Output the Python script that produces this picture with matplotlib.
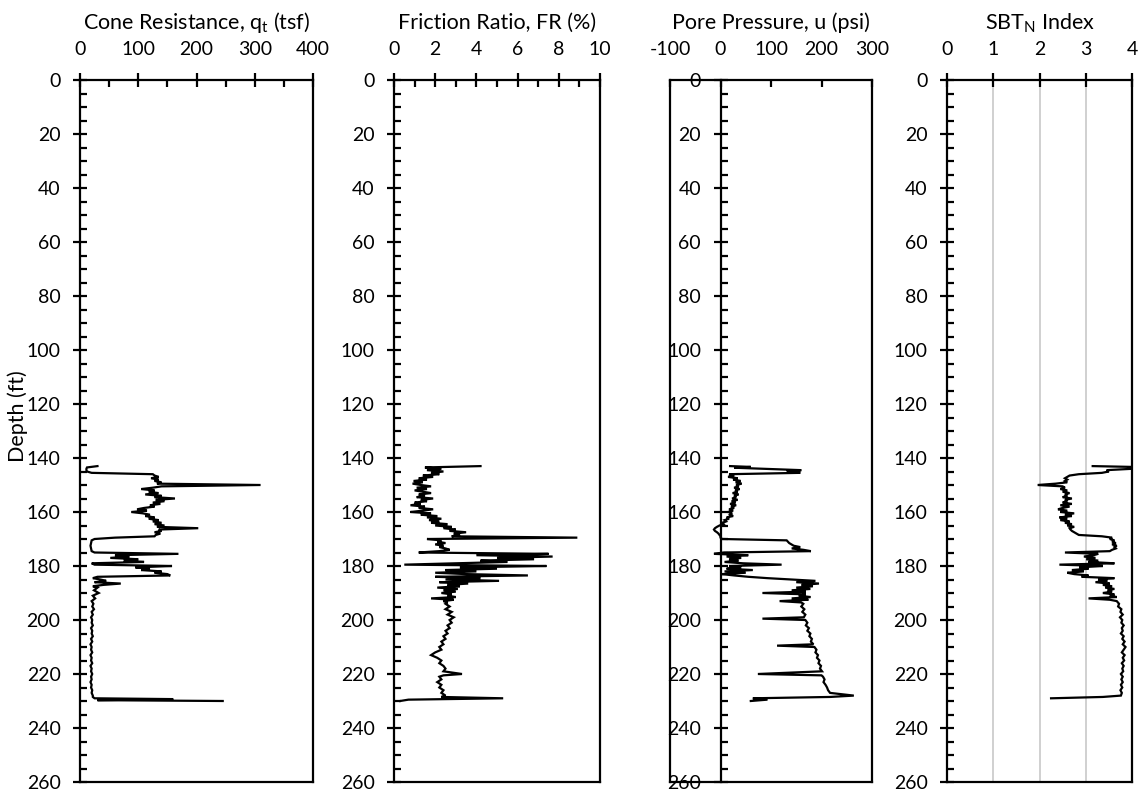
import matplotlib
matplotlib.use("Agg")
import matplotlib.pyplot as plt
from matplotlib.ticker import MultipleLocator

plt.rcParams['font.family'] = ['Lato', 'DejaVu Sans']
plt.rcParams['mathtext.fontset'] = 'custom'
plt.rcParams['mathtext.rm'] = 'Lato'
plt.rcParams['axes.unicode_minus'] = False

# ---------------- data ----------------
qt_depth = [143.0, 143.5, 144.0, 144.5, 145.0, 145.5, 146.0, 146.5, 147.0, 147.5, 148.0, 148.5, 149.0, 149.5,
            150.0, 150.3, 150.5, 151.0, 151.5, 152.0, 152.5, 153.0, 153.5, 154.0, 154.5, 155.0, 155.5, 156.0,
            156.5, 157.0, 157.5, 158.0, 158.5, 159.0, 159.5, 160.0, 160.5, 161.0, 161.5, 162.0, 162.5, 163.0,
            163.5, 164.0, 164.5, 165.0, 165.5, 166.0, 166.5, 167.0, 167.5, 168.0, 168.5, 169.0, 169.5, 170.0,
            170.5, 171.5, 172.5, 173.5, 174.5, 175.0, 175.5, 176.0, 176.5, 177.0, 177.5, 178.0, 178.5, 179.0,
            179.5, 180.0, 180.5, 181.0, 181.5, 182.0, 182.5, 183.0, 183.5, 184.0, 184.5, 185.0, 185.5, 186.0,
            186.5, 187.0, 187.5,
            188, 189, 190, 191, 192, 193, 194, 195, 196, 197, 198, 199, 200, 201, 202, 203, 204, 205, 206, 207,
            208, 209, 210, 211, 212, 213, 214, 215, 216, 217, 218, 219, 220, 221, 222, 223, 224, 225, 226, 227,
            228, 228.5, 229.0, 229.3, 229.7, 230.0]
qt_val = [30, 12, 11, 11, 12, 20, 125, 128, 135, 122, 135, 128, 140, 132,
          310, 200, 140, 125, 105, 128, 118, 135, 112, 140, 128, 163, 130, 145,
          125, 138, 120, 128, 110, 98, 115, 88, 108, 120, 112, 128, 118, 135,
          125, 140, 128, 145, 132, 203, 135, 140, 128, 138, 130, 128, 60, 25,
          20, 19, 18, 19, 20, 25, 169, 60, 85, 52, 100, 75, 110, 20,
          25, 158, 95, 120, 105, 140, 128, 150, 155, 30, 22, 35, 45, 25,
          70, 40, 22,
          30, 24, 32, 22, 26, 20, 23, 21, 24, 20, 22, 19, 21, 20, 22, 19, 21, 20, 22, 19,
          21, 18, 20, 19, 21, 18, 20, 19, 21, 18, 20, 19, 21, 19, 20, 18, 20, 19, 21, 20,
          22, 22, 25, 160, 30, 245]

fr_depth = [143.0, 143.5, 144.0, 144.5, 145.0, 145.5, 146.0, 146.5, 147.0, 147.5, 148.0, 148.5, 149.0, 149.5,
            150.0, 150.5, 151.0, 151.5, 152.0, 152.5, 153.0, 153.5, 154.0, 154.5, 155.0, 155.5, 156.0, 156.5,
            157.0, 157.5, 158.0, 158.5, 159.0, 159.5, 160.0, 160.5, 161.0, 161.5, 162.0, 162.5, 163.0, 163.5,
            164.0, 164.5, 165.0, 165.5, 166.0, 166.5, 167.0, 167.5, 168.0, 168.5, 169.0, 169.5, 170.0, 170.5,
            171.0, 171.5, 172.0, 172.5, 173.0, 173.5, 174.0, 174.5, 175.0, 175.5, 176.0, 176.5, 177.0, 177.5,
            178.0, 178.5, 179.0, 179.5, 180.0, 180.5, 181.0, 181.5, 182.0, 182.5, 183.0, 183.5, 184.0, 184.5,
            185.0, 185.5, 186.0, 186.5, 187.0, 187.5, 188.0, 188.5, 189.0, 189.5, 190.0, 190.5, 191.0, 191.5,
            192.0, 192.5, 193.0, 193.5,
            194, 195, 196, 197, 198, 199, 200, 201, 202, 203, 204, 205, 206, 207, 208, 209, 210, 211, 212, 213,
            214, 215, 216, 217, 218, 219, 220, 220.5, 221, 222, 223, 224, 225, 226, 227, 228, 228.5, 229.0,
            229.5, 230.0]
fr_val = [4.2, 1.5, 2.3, 1.6, 2.4, 1.8, 2.2, 1.4, 1.9, 1.2, 1.6, 0.95, 1.4, 0.9,
          1.3, 1.8, 1.1, 1.6, 1.0, 1.4, 1.8, 1.2, 1.5, 1.1, 1.9, 1.3, 1.6, 1.0,
          1.3, 0.8, 1.5, 1.2, 1.9, 1.4, 0.8, 1.8, 1.3, 2.1, 1.6, 2.3, 1.7, 2.2,
          1.8, 2.6, 2.0, 2.8, 2.4, 3.0, 2.7, 3.5, 2.9, 3.2, 2.8, 8.9, 1.6, 2.3,
          2.1, 2.5, 2.0, 2.4, 2.2, 2.5, 2.7, 2.2, 1.2, 7.5, 4.0, 7.7, 5.0, 6.8,
          4.2, 5.5, 3.0, 0.5, 7.4, 3.2, 5.0, 2.5, 4.0, 2.0, 3.5, 6.5, 2.0, 4.2,
          2.5, 5.1, 2.2, 3.6, 2.6, 3.2, 2.1, 3.1, 2.4, 3.0, 2.3, 2.8, 2.6, 3.0,
          1.8, 2.9, 2.4, 2.6,
          2.5, 2.7, 2.5, 2.8, 2.6, 2.9, 2.7, 2.8, 2.6, 2.7, 2.5, 2.6, 2.4, 2.5, 2.3, 2.4, 2.2, 2.3, 2.0, 1.8,
          2.1, 2.3, 2.2, 2.4, 2.5, 2.4, 3.3, 2.4, 2.2, 2.3, 2.1, 2.3, 2.2, 2.4, 2.3, 2.5, 2.3, 5.3,
          0.7, 0.3]

u_depth = [143.0, 143.3, 143.6, 144.0, 144.5, 145.0, 145.5, 146.0, 146.5, 147.0, 147.5, 148.0, 148.5, 149.0,
           149.5, 150.0, 150.5, 151.0, 151.5, 152.0, 152.5, 153.0, 153.5, 154.0, 154.5, 155.0, 155.5, 156.0,
           156.5, 157.0, 157.5, 158.0, 158.5, 159.0, 159.5, 160.0, 160.5, 161.0, 161.5, 162.0, 162.5, 163.0,
           163.5, 164.0, 164.5, 165.0, 165.5, 166.0, 166.5, 167.0, 167.5, 168.0, 168.5, 169.0, 169.5, 170.0,
           170.5, 171.5, 172.5, 173.0, 173.5, 174.0, 174.5, 175.0, 175.5, 176.0, 176.5, 177.0, 177.5, 178.0,
           178.5, 179.0, 179.5, 180.0, 180.5, 181.0, 181.5, 182.0, 182.5, 183.0, 183.5, 184.0, 184.5, 185.0,
           185.5, 186.0, 186.5, 187.0, 187.5, 188.0, 188.5, 189.0, 189.5, 190.0, 190.5, 191.0, 191.5, 192.0,
           192.5, 193.0, 193.5,
           194, 195, 196, 197, 198, 199, 199.5, 200, 201, 202, 203, 204, 205, 206, 207, 208, 209, 209.5, 210,
           211, 212, 213, 214, 215, 216, 217, 218, 219, 220, 220.5, 221, 222, 223, 224, 225, 226, 227, 228,
           228.5, 229.0, 229.5, 230.0]
u_val = [19, 60, 27, 88, 160, 131, 158, 17, 27, 15, 34, 25, 40, 30,
         42, 31, 36, 27, 38, 29, 34, 24, 36, 27, 31, 23, 34, 22,
         30, 19, 31, 21, 27, 17, 25, 15, 23, 19, 25, 12, 17, 8,
         11, 3, 6, -2, -7, -11, -13, -11, -7, -4, -2, 0, 0, 3,
         131, 136, 145, 158, 141, 164, 179, 7, -13, 55, 12, 41, 17, 36,
         8, 45, 121, 17, 41, 12, 64, 8, 50, 3, 27, 55, 93, 141,
         188, 150, 195, 160, 183, 150, 178, 141, 169, 83, 169, 155, 178, 141,
         174, 117, 160,
         164, 160, 166, 162, 168, 165, 83, 168, 172, 169, 175, 172, 178, 176, 181, 179, 184, 112, 186,
         190, 188, 193, 191, 196, 194, 199, 197, 201, 74, 200, 203, 206, 204, 208, 211, 213, 217, 264,
         217, 64, 93, 60]

sbt_depth = [143.0, 143.3, 144.0, 144.5, 145.0, 145.5, 146.0, 146.5, 147.0, 147.5, 148.0, 148.5, 149.0, 149.5,
             150.0, 150.5, 151.0, 151.5, 152.0, 152.5, 153.0, 153.5, 154.0, 154.5, 155.0, 155.5, 156.0, 156.5,
             157.0, 157.5, 158.0, 158.5, 159.0, 159.5, 160.0, 160.5, 161.0, 161.5, 162.0, 162.5, 163.0, 163.5,
             164.0, 164.5, 165.0, 165.5, 166.0, 166.5, 167.0, 167.5, 168.0, 168.5, 169.0, 169.5, 170.0, 170.5,
             171.0, 171.5, 172.0, 172.5, 173.0, 173.5, 174.0, 174.5, 175.0, 175.5, 176.0, 176.5, 177.0, 177.5,
             178.0, 178.5, 179.0, 179.5, 180.0, 180.5, 181.0, 181.5, 182.0, 182.5, 183.0, 183.5, 184.0, 184.5,
             185.0, 185.5, 186.0, 186.5, 187.0, 187.5, 188.0, 188.5, 189.0, 189.5, 190.0, 190.5, 191.0, 191.5,
             192.0, 192.5,
             193, 194, 195, 196, 197, 198, 199, 200, 201, 202, 203, 204, 205, 206, 207, 208, 209, 210, 211, 212,
             213, 214, 215, 216, 217, 218, 219, 220, 221, 222, 223, 224, 225, 226, 227, 228, 228.5, 229.0]
sbt_val = [3.15, 4.0, 4.0, 3.45, 3.5, 3.35, 2.85, 2.65, 2.6, 2.55, 2.6, 2.55, 2.6, 2.35,
           1.96, 2.5, 2.55, 2.45, 2.6, 2.5, 2.65, 2.55, 2.6, 2.5, 2.7, 2.55, 2.6, 2.5,
           2.7, 2.45, 2.65, 2.5, 2.4, 2.6, 2.45, 2.75, 2.55, 2.7, 2.43, 2.6, 2.45, 2.65,
           2.55, 2.7, 2.6, 2.75, 2.65, 2.67, 2.7, 2.75, 2.8, 2.85, 3.35, 3.57, 3.52, 3.62,
           3.57, 3.65, 3.57, 3.67, 3.62, 3.65, 3.57, 3.52, 2.55, 3.27, 3.17, 2.96, 3.21, 3.01,
           3.27, 3.06, 3.62, 2.43, 3.37, 2.86, 3.06, 2.7, 2.96, 2.6, 2.75, 3.06, 2.91, 3.62,
           3.27, 3.47, 3.21, 3.52, 3.37, 3.57, 3.42, 3.62, 3.47, 3.57, 3.37, 3.62, 3.52, 3.67,
           3.06, 3.52,
           3.67, 3.72, 3.7, 3.77, 3.75, 3.8, 3.74, 3.79, 3.77, 3.82, 3.78, 3.8, 3.76, 3.82, 3.79, 3.84, 3.8, 3.86, 3.82, 3.78,
           3.84, 3.8, 3.83, 3.78, 3.82, 3.79, 3.81, 3.76, 3.8, 3.77, 3.8, 3.76, 3.79, 3.75, 3.78, 3.76, 3.37, 2.25]

titles = ['Cone Resistance, q$_\\mathregular{t}$ (tsf)', 'Friction Ratio, FR (%)',
          'Pore Pressure, u (psi)', 'SBT$_\\mathregular{N}$ Index']
xlims = [(0, 400), (0, 10), (-100, 300), (0, 4)]
xmajor = [100, 2, 100, 1]
xminor = [50, 1, None, None]
depth_max = 260

# ---------------- figure ----------------
W, H = 1141, 795
fig = plt.figure(figsize=(W / 100, H / 100), dpi=100)
lefts = [80, 394, 670, 947]
rights = [313, 600, 872, 1132]
top_px, bot_px = 80, 782

series = [(qt_depth, qt_val), (fr_depth, fr_val), (u_depth, u_val), (sbt_depth, sbt_val)]

for i in range(4):
    ax = fig.add_axes([lefts[i] / W, 1 - bot_px / H, (rights[i] - lefts[i]) / W, (bot_px - top_px) / H])
    d, v = series[i]
    ax.plot(v, d, color='black', lw=1.6, solid_joinstyle='miter')
    ax.set_xlim(*xlims[i])
    ax.set_ylim(depth_max, 0)
    for s in ax.spines.values():
        s.set_linewidth(1.6)
    ax.xaxis.set_ticks_position('top')
    ax.xaxis.set_major_locator(MultipleLocator(xmajor[i]))
    if xminor[i]:
        ax.xaxis.set_minor_locator(MultipleLocator(xminor[i]))
    ax.yaxis.set_major_locator(MultipleLocator(20))
    ax.yaxis.set_minor_locator(MultipleLocator(5))
    ax.tick_params(axis='both', which='major', direction='inout', length=10, width=1.6,
                   labelsize=14)
    ax.tick_params(axis='x', which='major', pad=11)
    ax.tick_params(axis='y', which='major', pad=9)
    ax.tick_params(axis='both', which='minor', direction='in', length=5, width=1.6)
    cx = (lefts[i] + rights[i]) / 2 / W
    fig.text(cx, 1 - 29 / H, titles[i], fontsize=15.5, ha='center', va='baseline')
    if i == 2:
        ax.spines['left'].set_position(('data', 0))
        ax.axvline(-100, color='black', lw=1.6, clip_on=False)
        ax.tick_params(axis='x', which='major', direction='in', length=5, pad=16)
    if i == 3:
        ax.grid(axis='x', which='major', color='#d0d0d0', lw=1.4)
        ax.set_axisbelow(True)

fig.text(18 / W, 1 - 416 / H, 'Depth (ft)', fontsize=15.5, rotation=90, ha='center', va='center')

fig.savefig('out.png', dpi=100)
